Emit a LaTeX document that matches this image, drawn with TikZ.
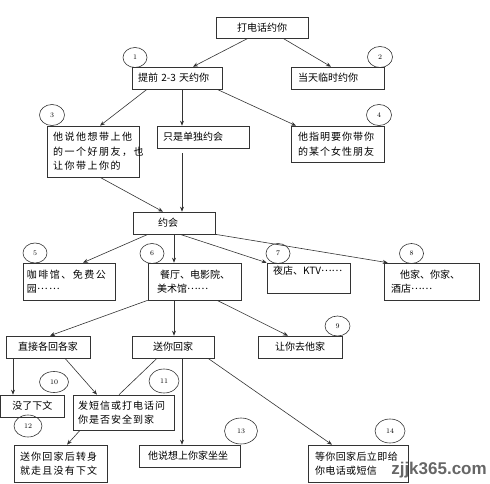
\documentclass[tikz,border=0pt]{standalone}
\usepackage{fontspec}
\newfontfamily\cjk{Noto Sans CJK SC}
\newfontfamily\wmfont{Liberation Sans}
\usetikzlibrary{arrows.meta,shapes.geometric}
\newcommand\midell{\raisebox{3pt}{……}}
\begin{document}
\begin{tikzpicture}[x=1pt,y=-1pt,
  bx/.style={draw=black!80, line width=0.6pt, inner xsep=6pt, inner ysep=0pt,
    font=\cjk\fontsize{10}{14.5}\selectfont, align=left},
  num/.style={draw=black!80, line width=0.6pt, ellipse, inner sep=0pt,
    font=\fontsize{7}{7}\selectfont},
  arr/.style={draw=black!80, line width=0.6pt, -{Stealth[length=5pt,width=4pt]}},
  ln/.style={draw=black!80, line width=0.6pt}]
\useasboundingbox (0,0) rectangle (490,484);

% boxes
\node[bx, text width=80pt, minimum height=21pt, align=center] (call) at (262,27.5) {打电话约你};
\node[bx, text width=78pt, minimum height=22pt] (p1) at (177,78) {提前 2-3 天约你};
\node[bx, inner xsep=7pt, text width=79pt, minimum height=22pt] (p2) at (337.5,78) {当天临时约你};
\node[bx, text width=80pt, minimum height=51pt, font=\cjk\fontsize{10}{14.5}\selectfont\addfontfeature{LetterSpace=15}] (b3) at (93,151.5) {他说他想带上他\\的一个好朋友，也\\让你带上你的};
\node[bx, text width=80pt, minimum height=22pt] (bonly) at (203,137) {只是单独约会};
\node[bx, inner xsep=7pt, text width=79pt, minimum height=36pt, font=\cjk\fontsize{10}{14.5}\selectfont\addfontfeature{LetterSpace=10}] (b4) at (337.5,144) {他指明要你带你\\的某个女性朋友};
\node[bx, inner xsep=25pt, text width=32pt, minimum height=22pt] (date) at (174,223) {约会};
\node[bx, inner xsep=4pt, text width=84pt, minimum height=37pt, font=\cjk\fontsize{10}{14.5}\selectfont\addfontfeature{LetterSpace=15}] (b5) at (69,281.5) {咖啡馆、免费公\\园\midell};
\node[bx, inner xsep=9pt, text width=75pt, minimum height=37pt] (b6) at (194.5,281.5) {\hspace{3pt}餐厅、电影院、\\美术馆\midell};
\node[bx, text width=71pt, minimum height=30pt] (b7) at (308.5,278) {夜店、KTV\midell\\\mbox{}};
\node[bx, inner xsep=7pt, text width=81pt, minimum height=37pt] (b8) at (431.5,281.5) {\hspace{9pt}他家、你家、\\酒店\midell};
\node[bx, text width=72pt, minimum height=22pt, align=center] (d1) at (48,347) {直接各回各家};
\node[bx, text width=70pt, minimum height=22pt, align=center] (d2) at (173,347) {送你回家};
\node[bx, text width=72pt, minimum height=22pt, align=center] (d3) at (300,347) {让你去他家};
\node[bx, text width=51.4pt, minimum height=22pt, align=center] (e1) at (32.3,406) {没了下文};
\node[bx, inner xsep=5pt, text width=91pt, minimum height=35pt, font=\cjk\fontsize{10}{14.5}\selectfont\addfontfeature{LetterSpace=10}] (e2) at (123.5,412.5) {发短信或打电话问\\你是否安全到家};
\node[bx, text width=81pt, minimum height=37pt, font=\cjk\fontsize{10}{14.5}\selectfont\addfontfeature{LetterSpace=12}] (f1) at (60.5,463.5) {送你回家后转身\\就走且没有下文};
\node[bx, inner xsep=9pt, text width=83pt, minimum height=22pt] (f2) at (189.5,456) {他说想上你家坐坐};
\node[bx, inner xsep=7pt, text width=86pt, minimum height=37pt, font=\cjk\fontsize{10}{14.5}\selectfont\addfontfeature{LetterSpace=4}] (f3) at (358,463.5) {等你回家后立即给\\你电话或短信};

% numbered circles
\node[num, minimum width=24pt, minimum height=20pt] (c1) at (135,57.5) {1};
\node[num, minimum width=25pt, minimum height=21pt] (c2) at (380,57) {2};
\node[num, minimum width=25pt, minimum height=21pt] (c3) at (52,115) {3};
\node[num, minimum width=25pt, minimum height=21pt] (c4) at (379,115) {4};
\node[num, minimum width=24pt, minimum height=20pt] (c5) at (35,253) {5};
\node[num, minimum width=24pt, minimum height=20pt] (c6) at (152,253.5) {6};
\node[num, minimum width=24pt, minimum height=20pt] (c7) at (278,253.5) {7};
\node[num, minimum width=24pt, minimum height=20pt] (c8) at (411.5,253.5) {8};
\node[num, minimum width=25pt, minimum height=20pt] (c9) at (337.5,326) {9};
\node[num, minimum width=29pt, minimum height=21pt] (c10) at (54,382) {10};
\node[num, minimum width=30pt, minimum height=24pt] (c11) at (164,381) {11};
\node[num, minimum width=28pt, minimum height=22pt] (c12) at (28,426) {12};
\node[num, minimum width=33pt, minimum height=26pt] (c13) at (241,431) {13};
\node[num, minimum width=30pt, minimum height=24pt] (c14) at (390,431) {14};

% connectors
\draw[arr] ([xshift=-14pt]call.south) -- ([xshift=16pt]p1.north);
\draw[arr] ([xshift=21pt]call.south) -- ([xshift=-6.5pt]p2.north);
\draw[arr] ([xshift=-30pt]p1.south) -- ([xshift=7pt]b3.north);
\draw[arr] ([xshift=5pt]p1.south) -- ([xshift=-21pt]bonly.north);
\draw[arr] ([xshift=40pt]p1.south) -- ([xshift=-41.5pt]b4.north);
\draw[arr] ([xshift=7pt]b3.south) -- ([xshift=-11pt]date.north);
\draw[arr] ([xshift=-21pt,yshift=-5pt]bonly.south) -- ([xshift=8pt]date.north);
\draw[arr] ([xshift=-26pt]date.south) -- ([xshift=14pt]b5.north);
\draw[arr] (date.south) -- ([xshift=-20.5pt]b6.north);
\draw[arr] ([xshift=6pt]date.south) -- (b7.north west);
\draw[arr] (date.south east) -- ([xshift=4pt]b8.north west);
\draw[arr] (b6.south west) -- ([xshift=2pt]d1.north);
\draw[arr] ([xshift=-20.5pt]b6.south) -- ([xshift=1pt]d2.north);
\draw[arr] ([xshift=22.5pt]b6.south) -- ([xshift=-12pt]d3.north);
\draw[arr] ([xshift=-35pt]d1.south) -- ([xshift=-19.3pt]e1.north);
\draw[arr] ([xshift=17pt]d1.south) -- ([xshift=-26.5pt]e2.north);
\draw[ln] ([xshift=-16pt]d2.south) -- ([xshift=-4.5pt]e2.north);
\draw[arr] ([xshift=9pt]d2.south) -- ([xshift=-7.5pt]f2.north);
\draw[arr] ([xshift=35pt]d2.south) -- ([xshift=-26pt]f3.north);
\draw[arr] ([xshift=-43.5pt]e2.south) -- ([xshift=6.5pt]f1.north);

% watermark
\node[inner sep=0pt, text=black!60, font=\wmfont\bfseries\fontsize{17}{17}\selectfont] (wm) at (439,470) {zjjk365.com};
\end{tikzpicture}
\end{document}
